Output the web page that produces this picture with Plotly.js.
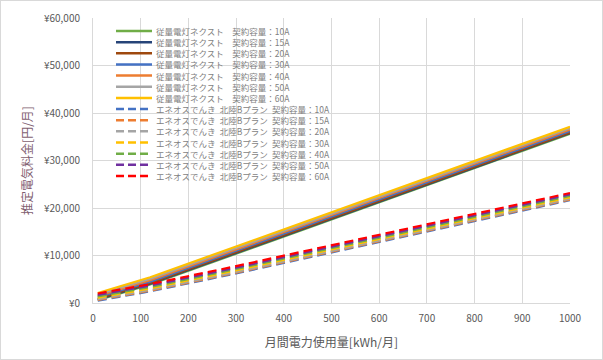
<!DOCTYPE html>
<html>
<head>
<meta charset="utf-8">
<script src="https://cdn.plot.ly/plotly-3.0.1.min.js"></script>
<style>
html,body{margin:0;padding:0;background:#fff;}
#chart{width:603px;height:360px;box-sizing:border-box;border:1px solid #D9D9D9;}
</style>
</head>
<body>
<div id="chart"></div>
<script>
// ---- data ----
const kwh = [10, 120, 300, 1000];
const contracts = ["10A", "15A", "20A", "30A", "40A", "50A", "60A"];

// 従量電灯ネクスト (solid)
const next10A = [600, 3900, 10380, 35600];
const next15A = [750, 4050, 10530, 35750];
const next20A = [910, 4210, 10690, 35900];
const next30A = [1210, 4510, 10990, 36200];
const next40A = [1510, 4810, 11290, 36500];
const next50A = [1810, 5110, 11590, 36800];
const next60A = [2120, 5420, 11900, 37100];

// エネオスでんき 北陸Bプラン (dashed)
const eneos10A = [480, 2460, 6240, 21640];
const eneos15A = [630, 2610, 6390, 21790];
const eneos20A = [790, 2770, 6550, 21950];
const eneos30A = [1090, 3070, 6850, 22250];
const eneos40A = [1390, 3370, 7150, 22550];
const eneos50A = [1690, 3670, 7450, 22850];
const eneos60A = [2000, 3980, 7760, 23160];

const xTickVals = [0, 100, 200, 300, 400, 500, 600, 700, 800, 900, 1000];
const yTickVals = [0, 10000, 20000, 30000, 40000, 50000, 60000];
const yTickText = ["¥0", "¥10,000", "¥20,000", "¥30,000", "¥40,000", "¥50,000", "¥60,000"];

const nextSeries = [next10A, next15A, next20A, next30A, next40A, next50A, next60A];
const eneosSeries = [eneos10A, eneos15A, eneos20A, eneos30A, eneos40A, eneos50A, eneos60A];

// ---- styles ----
const nextColors = ["#70AD47", "#264478", "#9E480E", "#4472C4", "#ED7D31", "#A5A5A5", "#FFC000"];
const eneosColors = ["#4472C4", "#ED7D31", "#A5A5A5", "#FFC000", "#70AD47", "#7030A0", "#FF0000"];
const DASH = "9px,5px";
const FONT = "Noto Sans CJK JP, Noto Sans, sans-serif";
const LW = 2.2;

const traces = [];
const names = [];
const labels = [];
const colors = [];
const dashes = [];
contracts.forEach((c, i) => {
  const nm = "従量電灯ネクスト 契約容量：" + c;
  traces.push({x: kwh, y: nextSeries[i], type: "scatter", mode: "lines", name: nm,
    line: {color: nextColors[i], width: LW}, showlegend: false, hoverinfo: "skip"});
  names.push(nm); labels.push("従量電灯ネクスト\u3000契約容量：" + c);
  colors.push(nextColors[i]); dashes.push("solid");
});
contracts.forEach((c, i) => {
  const nm = "エネオスでんき 北陸Bプラン 契約容量：" + c;
  traces.push({x: kwh, y: eneosSeries[i], type: "scatter", mode: "lines", name: nm,
    line: {color: eneosColors[i], width: LW, dash: DASH}, showlegend: false, hoverinfo: "skip"});
  names.push(nm); labels.push("エネオスでんき\u2002北陸Bプラン\u2002契約容量：" + c);
  colors.push(eneosColors[i]); dashes.push(DASH);
});

// custom compact legend (paper coordinates)
const plotL = 92, plotT = 17, plotW = 477, plotH = 285;
const px2x = p => (p - 1 - plotL) / plotW;
const py2y = p => 1 - (p - 1 - plotT) / plotH;
const shapes = [];
const annotations = [];
labels.forEach((lb, i) => {
  const yy = py2y(31 + i * 11.15);
  shapes.push({type: "line", xref: "paper", yref: "paper", x0: px2x(116), x1: px2x(152), y0: yy, y1: yy,
    line: {color: colors[i], width: 2.5, dash: dashes[i] === "solid" ? "solid" : "8px,4px"}});
  annotations.push({xref: "paper", yref: "paper", x: px2x(155), y: yy, xanchor: "left", yanchor: "middle",
    text: lb, showarrow: false, borderpad: 0, font: {family: FONT, size: 8.5, color: "#7F7F7F"}});
});

const layout = {
  width: 601, height: 358,
  margin: {l: plotL, r: 601 - plotL - plotW, t: plotT, b: 358 - plotT - plotH, pad: 0},
  paper_bgcolor: "#fff", plot_bgcolor: "#fff",
  font: {family: FONT, color: "#595959", size: 10},
  xaxis: {
    range: [0, 1000], tickvals: xTickVals, ticktext: xTickVals.map(String),
    showgrid: true, gridcolor: "#D9D9D9", gridwidth: 1, zeroline: false,
    showline: true, linecolor: "#D9D9D9", linewidth: 1, mirror: false,
    ticks: "", ticklen: 0, ticklabelstandoff: 6, tickfont: {family: FONT, size: 10, color: "#595959"},
    title: {text: "月間電力使用量[kWh/月]", font: {family: FONT, size: 12, color: "#595959"}, standoff: 14}
  },
  yaxis: {
    range: [0, 60000], tickvals: yTickVals, ticktext: yTickText,
    showgrid: true, gridcolor: "#D9D9D9", gridwidth: 1, zeroline: false,
    showline: true, linecolor: "#D9D9D9", linewidth: 1,
    ticks: "", ticklen: 0, ticklabelstandoff: 10, tickfont: {family: FONT, size: 10, color: "#595959"},
    title: {text: "推定電気料金[円/月]", font: {family: FONT, size: 12, color: "#7F6070"}, standoff: 8}
  },
  shapes: shapes,
  annotations: annotations,
  showlegend: false
};

Plotly.newPlot("chart", traces, layout, {displayModeBar: false, staticPlot: true});
</script>
</body>
</html>
